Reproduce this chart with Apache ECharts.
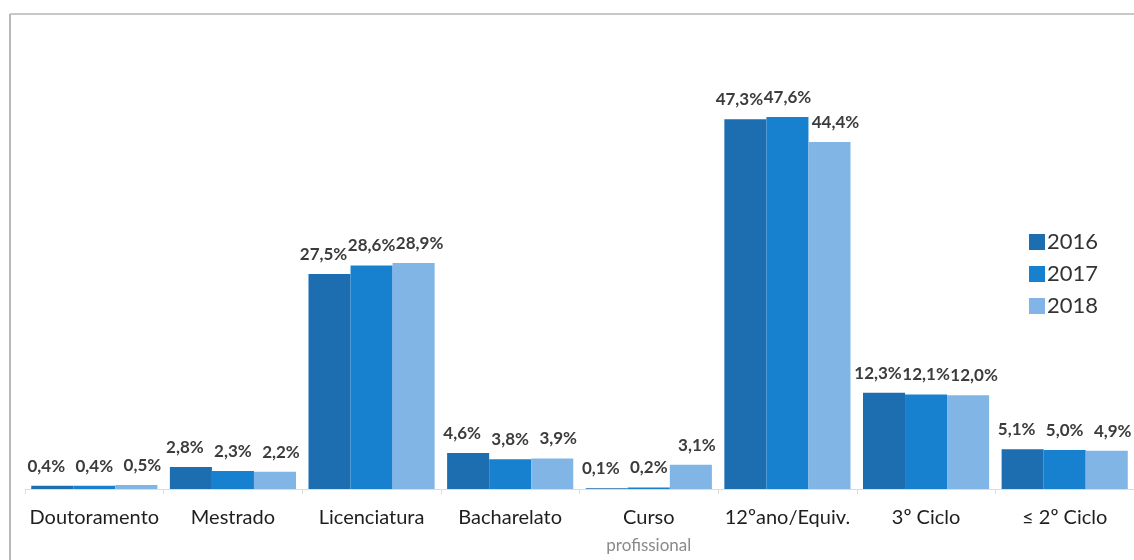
<!DOCTYPE html>
<html>
<head>
<meta charset="utf-8">
<script src="https://cdn.jsdelivr.net/npm/echarts@6/dist/echarts.min.js"></script>
<style>
  html, body { margin: 0; padding: 0; background: #fff; }
  #chart { width: 1134px; height: 560px; }
</style>
</head>
<body>
<div id="chart"></div>
<script>
// Education level distribution by year (%)
const categories = ['Doutoramento', 'Mestrado', 'Licenciatura', 'Bacharelato', 'Curso\n{p|profissional}', '12ºano/Equiv.', '3º Ciclo', '≤ 2º Ciclo'];
const years = ['2016', '2017', '2018'];
const values2016 = [0.4, 2.8, 27.5, 4.6, 0.1, 47.3, 12.3, 5.1];
const values2017 = [0.4, 2.3, 28.6, 3.8, 0.2, 47.6, 12.1, 5.0];
const values2018 = [0.5, 2.2, 28.9, 3.9, 3.1, 44.4, 12.0, 4.9];
const colors = ['#1d6db1', '#1780cf', '#80b5e6'];

const fontFamily = 'Lato, "Open Sans", sans-serif';

function pct(v) {
  return v.toFixed(1).replace('.', ',') + '%';
}

// Outer labels are nudged sideways so neighbouring values stay readable
function makeSeries(name, data, color, dx) {
  return {
    name: name,
    type: 'bar',
    data: data,
    barGap: '0%',
    barCategoryGap: '9%',
    itemStyle: { color: color },
    label: {
      show: true,
      position: 'top',
      distance: 11,
      offset: [dx, 0],
      formatter: p => pct(p.value),
      color: '#3c3c3c',
      fontSize: 17,
      fontWeight: 'bold',
      fontFamily: fontFamily
    }
  };
}

const chart = echarts.init(document.getElementById('chart'), null, { renderer: 'canvas' });
chart.setOption({
  animation: false,
  backgroundColor: '#fff',
  textStyle: { fontFamily: fontFamily },
  graphic: [
    { type: 'line', shape: { x1: 10, y1: 14, x2: 1134, y2: 14 }, style: { stroke: '#c8c8c8', lineWidth: 2 } },
    { type: 'line', shape: { x1: 10, y1: 14, x2: 10, y2: 560 }, style: { stroke: '#b8b8b8', lineWidth: 2 } }
  ],
  legend: {
    orient: 'vertical',
    left: 1024,
    top: 226,
    itemWidth: 16,
    itemHeight: 16,
    itemGap: 10,
    icon: 'rect',
    data: years,
    textStyle: { fontSize: 22, color: '#333', fontFamily: fontFamily, padding: [0, 0, 0, -3] }
  },
  grid: { left: 25, top: 20, width: 1111, height: 471, containLabel: false },
  xAxis: {
    type: 'category',
    data: categories,
    axisLine: { lineStyle: { color: '#dcdcdc', width: 1 } },
    axisTick: { show: true, alignWithLabel: false, length: 5, lineStyle: { color: '#dcdcdc' } },
    axisLabel: {
      interval: 0,
      color: '#1e1e1e',
      fontSize: 20,
      margin: 15,
      fontFamily: fontFamily,
      lineHeight: 28,
      rich: {
        p: { color: '#8a8a8a', fontSize: 17, fontFamily: fontFamily, lineHeight: 28 }
      }
    }
  },
  yAxis: {
    type: 'value',
    min: 0,
    max: 60,
    show: false,
    splitLine: { show: false }
  },
  series: [
    makeSeries(years[0], values2016, colors[0], -6),
    makeSeries(years[1], values2017, colors[1], 0),
    makeSeries(years[2], values2018, colors[2], 6)
  ]
});
</script>
</body>
</html>
